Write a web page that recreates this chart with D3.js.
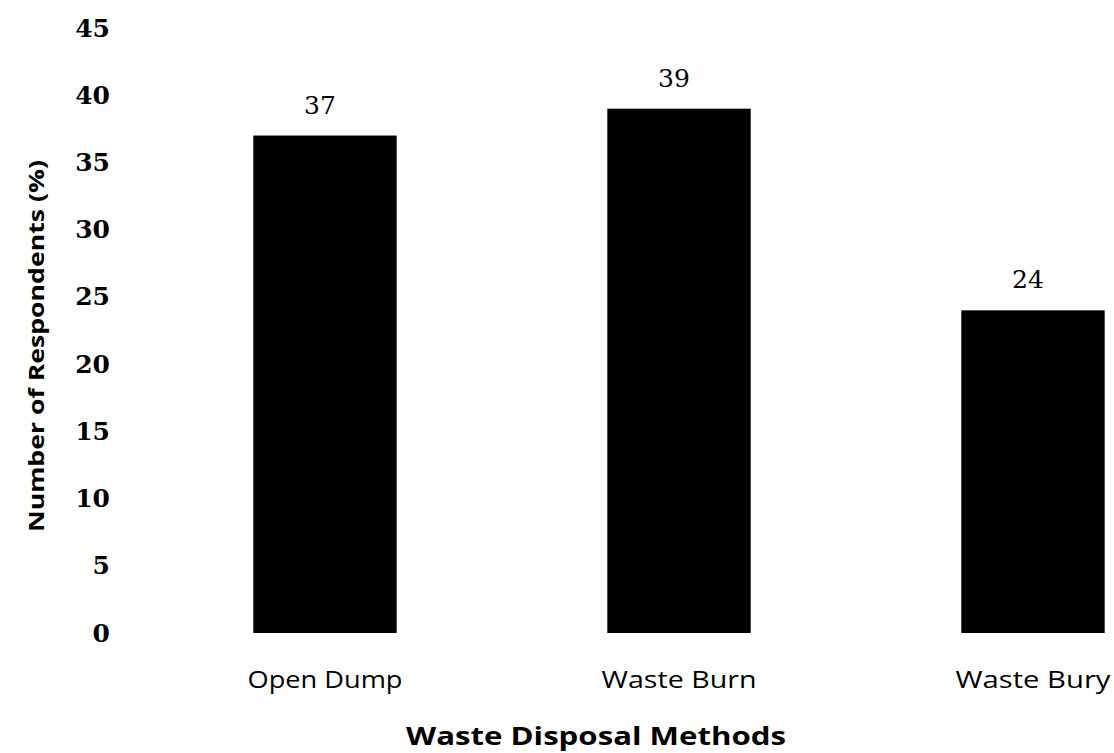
<!DOCTYPE html>
<html>
<head>
<meta charset="utf-8">
<script src="https://cdn.jsdelivr.net/npm/d3@7"></script>
<style>
  body { margin: 0; background: #fff; }
  #chart { width: 1114px; height: 753px; }
</style>
</head>
<body>
<div id="chart"></div>
<script>
const methods = ["Open Dump", "Waste Burn", "Waste Bury"];
const respondents = [37, 39, 24];
const yTicks = [0, 5, 10, 15, 20, 25, 30, 35, 40, 45];

const w = 1114, h = 753;
const svg = d3.select("#chart")
  .append("svg")
  .attr("width", w)
  .attr("height", h);

// band centres land near 325 / 675 / 1032, bars ~143px wide
const xScale = d3.scaleBand()
  .domain(methods)
  .range([148, 1210])
  .paddingInner(0.595)
  .paddingOuter(0.2975);

const yScale = d3.scaleLinear()
  .domain([0, 45])
  .range([633, 28]);

// y axis: labels only, no line or ticks
const yAxis = svg.append("g")
  .attr("transform", `translate(${110}, 0)`)
  .call(d3.axisLeft(yScale).tickValues(yTicks).tickSize(0).tickPadding(0));
yAxis.select(".domain").remove();
yAxis.selectAll("text")
  .attr("font-family", "DejaVu Serif")
  .attr("font-weight", "bold")
  .attr("font-size", 25)
  .attr("fill", "#000");

// x axis labels
const xAxis = svg.append("g")
  .attr("transform", `translate(0, ${671})`)
  .call(d3.axisBottom(xScale).tickSize(0).tickPadding(0));
xAxis.select(".domain").remove();
xAxis.selectAll("text")
  .attr("font-family", "Open Sans")
  .attr("font-size", 24)
  .attr("fill", "#000")
  .attr("textLength", 155)
  .attr("lengthAdjust", "spacingAndGlyphs");

// bars
svg.selectAll(".bar")
  .data(methods)
  .join("rect")
  .attr("class", "bar")
  .attr("x", d => xScale(d))
  .attr("width", xScale.bandwidth())
  .attr("y", (d, i) => yScale(respondents[i]))
  .attr("height", (d, i) => yScale(0) - yScale(respondents[i]))
  .attr("fill", "#000");

// value labels
svg.selectAll(".val")
  .data(methods)
  .join("text")
  .attr("class", "val")
  .attr("x", d => xScale(d) + xScale.bandwidth() / 2 - 5)
  .attr("y", (d, i) => yScale(respondents[i]) - 22)
  .attr("text-anchor", "middle")
  .attr("font-family", "DejaVu Serif")
  .attr("font-size", 25)
  .attr("fill", "#000")
  .text((d, i) => respondents[i]);

// axis titles
svg.append("text")
  .attr("x", 596)
  .attr("y", 745)
  .attr("text-anchor", "middle")
  .attr("font-family", "Open Sans")
  .attr("font-weight", "bold")
  .attr("font-size", 25)
  .attr("textLength", 380)
  .attr("lengthAdjust", "spacingAndGlyphs")
  .text("Waste Disposal Methods");

svg.append("text")
  .attr("transform", `translate(${44}, ${346}) rotate(-90)`)
  .attr("text-anchor", "middle")
  .attr("font-family", "Open Sans")
  .attr("font-weight", "bold")
  .attr("font-size", 22)
  .attr("textLength", 372)
  .attr("lengthAdjust", "spacingAndGlyphs")
  .text("Number of Respondents (%)");
</script>
</body>
</html>
